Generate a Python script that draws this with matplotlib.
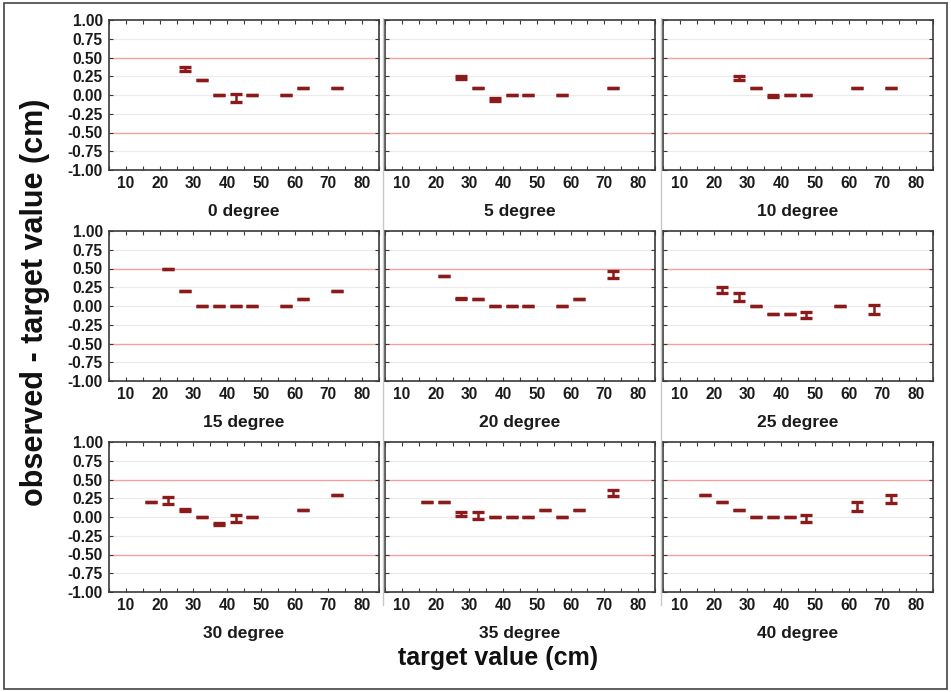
#!/usr/bin/env python3
"""Observed - target deviation per target distance, one panel per tilt angle."""
import matplotlib
matplotlib.use("Agg")
import matplotlib.pyplot as plt
from matplotlib.patches import Rectangle
from matplotlib.lines import Line2D
from matplotlib.ticker import MultipleLocator, FormatStrFormatter

# --- data (x = target value cm, y = observed - target, err = bar half-height) ---
DEGREES = ["0 degree", "5 degree", "10 degree", "15 degree", "20 degree",
           "25 degree", "30 degree", "35 degree", "40 degree"]

x_0 = [27.5, 32.5, 37.5, 42.5, 47.5, 57.5, 62.5, 72.5]
y_0 = [0.35, 0.20, 0.00, -0.04, 0.00, 0.00, 0.10, 0.10]
e_0 = [0.025, 0, 0, 0.056, 0, 0, 0, 0]

x_5 = [27.5, 32.5, 37.5, 42.5, 47.5, 57.5, 72.5]
y_5 = [0.23, 0.10, -0.06, 0.00, 0.00, 0.00, 0.10]
e_5 = [0.022, 0, 0.025, 0, 0, 0, 0]

x_10 = [27.5, 32.5, 37.5, 42.5, 47.5, 62.5, 72.5]
y_10 = [0.23, 0.10, -0.01, 0.00, 0.00, 0.10, 0.10]
e_10 = [0.027, 0, 0.016, 0, 0, 0, 0]

x_15 = [22.5, 27.5, 32.5, 37.5, 42.5, 47.5, 57.5, 62.5, 72.5]
y_15 = [0.50, 0.20, 0.00, 0.00, 0.00, 0.00, 0.00, 0.10, 0.20]
e_15 = [0, 0, 0, 0, 0, 0, 0, 0, 0]

x_20 = [22.5, 27.5, 32.5, 37.5, 42.5, 47.5, 57.5, 62.5, 72.5]
y_20 = [0.40, 0.10, 0.10, 0.00, 0.00, 0.00, 0.00, 0.10, 0.42]
e_20 = [0, 0.010, 0, 0, 0, 0, 0, 0, 0.043]

x_25 = [22.5, 27.5, 32.5, 37.5, 42.5, 47.5, 57.5, 67.5]
y_25 = [0.21, 0.12, 0.00, -0.10, -0.10, -0.12, 0.00, -0.05]
e_25 = [0.043, 0.047, 0, 0, 0, 0.045, 0, 0.058]

x_30 = [17.5, 22.5, 27.5, 32.5, 37.5, 42.5, 47.5, 62.5, 72.5]
y_30 = [0.20, 0.22, 0.09, 0.00, -0.09, -0.02, 0.00, 0.10, 0.30]
e_30 = [0, 0.045, 0.013, 0, 0.011, 0.047, 0, 0, 0]

x_35 = [17.5, 22.5, 27.5, 32.5, 37.5, 42.5, 47.5, 52.5, 57.5, 62.5, 72.5]
y_35 = [0.20, 0.20, 0.045, 0.02, 0.00, 0.00, 0.00, 0.10, 0.00, 0.10, 0.32]
e_35 = [0, 0, 0.027, 0.043, 0, 0, 0, 0, 0, 0, 0.045]

x_40 = [17.5, 22.5, 27.5, 32.5, 37.5, 42.5, 47.5, 62.5, 72.5]
y_40 = [0.30, 0.20, 0.10, 0.00, 0.00, 0.00, -0.02, 0.14, 0.24]
e_40 = [0, 0, 0, 0, 0, 0, 0.047, 0.056, 0.058]

SERIES = [(x_0, y_0, e_0), (x_5, y_5, e_5), (x_10, y_10, e_10),
          (x_15, y_15, e_15), (x_20, y_20, e_20), (x_25, y_25, e_25),
          (x_30, y_30, e_30), (x_35, y_35, e_35), (x_40, y_40, e_40)]

X_TICKS = [10, 20, 30, 40, 50, 60, 70, 80]
Y_TICKS = [-1.0, -0.75, -0.5, -0.25, 0.0, 0.25, 0.5, 0.75, 1.0]
LIMIT = 0.5

BAR_COLOR = "#8b1a1a"
LIMIT_COLOR = "#f4a0a0"
GRID_COLOR = "#ebebeb"
SPINE_COLOR = "#3a3a3a"

W, H = 951, 692
COL_LEFT = [109, 385, 663]
ROW_TOP = [20, 231, 442]
AX_W, AX_H = 270, 150


def main():
    plt.rcParams.update({
        "font.family": ["Liberation Sans", "DejaVu Sans"],
        "font.weight": "bold",
        "axes.unicode_minus": False,
    })
    fig = plt.figure(figsize=(W / 100, H / 100), dpi=100)

    for i, (label, (xs, ys, es)) in enumerate(zip(DEGREES, SERIES)):
        r, c = divmod(i, 3)
        rect = [COL_LEFT[c] / W, 1 - (ROW_TOP[r] + AX_H) / H, AX_W / W, AX_H / H]
        ax = fig.add_axes(rect)

        ax.set_xlim(5, 85)
        ax.set_ylim(-1.0, 1.0)
        ax.set_xticks(X_TICKS)
        ax.xaxis.set_minor_locator(MultipleLocator(5))
        ax.set_yticks(Y_TICKS)
        ax.yaxis.set_major_formatter(FormatStrFormatter("%.2f"))
        ax.tick_params(which="both", direction="in", top=True, right=True,
                       length=3, width=0.8, color=SPINE_COLOR,
                       labelsize=11.2, pad=4.5)
        ax.tick_params(which="minor", length=3)
        if c != 0:
            ax.tick_params(axis="y", labelleft=False)
        for t in ax.get_xticklabels() + ax.get_yticklabels():
            t.set_fontweight("bold")
            t.set_color("#1a1a1a")

        for v in Y_TICKS:
            if abs(v) not in (1.0, LIMIT):
                ax.axhline(v, color=GRID_COLOR, lw=0.8, zorder=0)
        for v in (LIMIT, -LIMIT):
            ax.axhline(v, color=LIMIT_COLOR, lw=1.0, zorder=1)

        ax.errorbar(xs, ys, yerr=es, fmt="none", ecolor=BAR_COLOR,
                    elinewidth=1.8, capsize=4, capthick=2.4, zorder=3)

        for s in ax.spines.values():
            s.set_color(SPINE_COLOR)
            s.set_linewidth(1.2)

        ax.set_xlabel(label, fontsize=12.5, fontweight="bold", labelpad=9,
                      color="#1a1a1a")

    # panel separators as in the original export
    for xp in (383, 661):
        fig.add_artist(Line2D([xp / W, xp / W], [1 - 18 / H, 1 - 605 / H],
                              transform=fig.transFigure, color="#c8c8c8", lw=1.0))

    fig.text(498 / W, 1 - 658 / H, "target value (cm)", ha="center", va="center",
             fontsize=18, fontweight="bold", color="#111111")
    fig.text(35 / W, 1 - 302 / H, "observed - target value (cm)", ha="center",
             va="center", rotation=90, fontsize=22, fontweight="bold",
             color="#111111")

    fig.add_artist(Rectangle((4 / W, 3 / H), 943 / W, 686 / H,
                             transform=fig.transFigure, fill=False,
                             edgecolor="#444444", lw=1.2))

    fig.savefig("out.png", dpi=100)


if __name__ == "__main__":
    main()
